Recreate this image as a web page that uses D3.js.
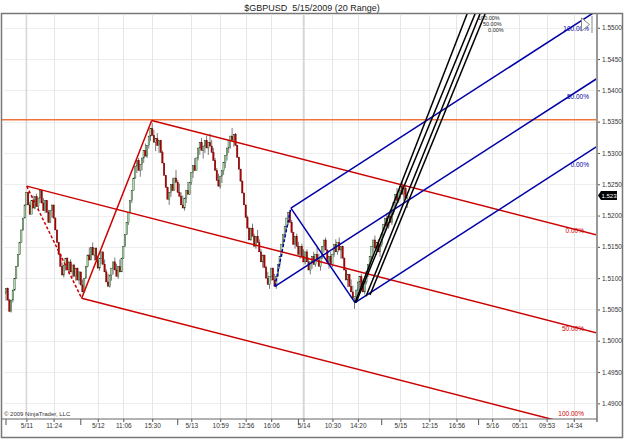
<!DOCTYPE html>
<html>
<head>
<meta charset="utf-8">
<script src="https://cdn.jsdelivr.net/npm/d3@7"></script>
<style>
  body { margin: 0; background: #fff; }
  svg { display: block; font-family: "Liberation Sans", Arial, sans-serif; }
</style>
</head>
<body>
<div id="chart"></div>
<script>
// closes of each 20-tick range bar
const closes = [
  1.5084, 1.5065, 1.5047, 1.5065, 1.5081, 1.5100, 1.5119, 1.5138, 1.5157, 1.5177,
  1.5196, 1.5217, 1.5237, 1.5217, 1.5202, 1.5224, 1.5212, 1.5230, 1.5215, 1.5228,
  1.5240, 1.5220, 1.5208, 1.5224, 1.5205, 1.5189, 1.5208, 1.5217, 1.5196, 1.5177,
  1.5157, 1.5138, 1.5119, 1.5105, 1.5121, 1.5132, 1.5113, 1.5126, 1.5110, 1.5121,
  1.5103, 1.5116, 1.5097, 1.5110, 1.5089, 1.5078, 1.5100, 1.5119, 1.5137, 1.5129,
  1.5149, 1.5137, 1.5148, 1.5129, 1.5116, 1.5132, 1.5142, 1.5122, 1.5110, 1.5094,
  1.5087, 1.5105, 1.5116, 1.5126, 1.5113, 1.5103, 1.5119, 1.5110, 1.5132, 1.5151,
  1.5170, 1.5189, 1.5205, 1.5224, 1.5240, 1.5260, 1.5279, 1.5288, 1.5272, 1.5282,
  1.5292, 1.5304, 1.5295, 1.5312, 1.5327, 1.5339, 1.5328, 1.5317, 1.5323, 1.5312,
  1.5320, 1.5301, 1.5284, 1.5264, 1.5245, 1.5226, 1.5237, 1.5250, 1.5240, 1.5260,
  1.5253, 1.5237, 1.5231, 1.5217, 1.5212, 1.5228, 1.5240, 1.5234, 1.5253, 1.5269,
  1.5280, 1.5272, 1.5292, 1.5308, 1.5317, 1.5304, 1.5311, 1.5320, 1.5308, 1.5317,
  1.5311, 1.5301, 1.5288, 1.5272, 1.5256, 1.5247, 1.5263, 1.5272, 1.5285, 1.5296,
  1.5308, 1.5320, 1.5327, 1.5320, 1.5330, 1.5312, 1.5293, 1.5274, 1.5255, 1.5236,
  1.5217, 1.5197, 1.5180, 1.5161, 1.5180, 1.5167, 1.5151, 1.5167, 1.5157, 1.5142,
  1.5126, 1.5137, 1.5117, 1.5100, 1.5090, 1.5103, 1.5116, 1.5097, 1.5087, 1.5103,
  1.5122, 1.5135, 1.5154, 1.5170, 1.5183, 1.5196, 1.5205, 1.5189, 1.5173, 1.5154,
  1.5167, 1.5151, 1.5138, 1.5151, 1.5135, 1.5126, 1.5142, 1.5126, 1.5113, 1.5126,
  1.5135, 1.5122, 1.5138, 1.5129, 1.5119, 1.5132, 1.5151, 1.5161, 1.5145, 1.5126,
  1.5135, 1.5122, 1.5138, 1.5154, 1.5142, 1.5157, 1.5145, 1.5151, 1.5132, 1.5113,
  1.5097, 1.5106, 1.5087, 1.5078, 1.5068, 1.5071, 1.5081, 1.5094, 1.5103, 1.5087,
  1.5078, 1.5094, 1.5110, 1.5122, 1.5135, 1.5151, 1.5161, 1.5148, 1.5157, 1.5142,
  1.5154, 1.5170, 1.5186, 1.5196, 1.5183, 1.5199, 1.5189, 1.5205, 1.5221, 1.5234,
  1.5224, 1.5240, 1.5247, 1.5234, 1.5244, 1.5228, 1.5232
];
const firstOpen = 1.5076;
const barRange = 0.0020;

const priceTicks = [1.4900, 1.4950, 1.5000, 1.5050, 1.5100, 1.5150, 1.5200,
                    1.5250, 1.5300, 1.5350, 1.5400, 1.5450, 1.5500];
const timeLabels = ['5/11', '11:24', '5/12', '11:06', '15:30', '5/13', '10:59', '12:56', '16:06',
                    '5/14', '10:30', '14:20', '5/15', '12:15', '16:56', '5/16', '05:11', '09:53', '14:34'];
const timeLabelBars = [12, 28, 54, 69, 86, 109, 126, 141, 156, 175, 192, 207, 232, 249, 265, 286, 302, 318, 334];
const dayBars = [12, 175];
const sessionBars = [0, 44, 101, 172, 221, 278];

const orangeLevel = 1.5353;
const lastPrice = 1.5232;

// pitchfork pivots [bar, price]: A (handle), B, C
const redFork = [[12.2, 1.5247], [44.5, 1.5068], [85.7, 1.5352]];
const blueFork = [[158.2, 1.5087], [167.6, 1.5212], [205.3, 1.5061]];
const blackLines = [
  [[205.3, 1.5061], [271.2, 1.5522]],
  [[205.9, 1.5061], [275.9, 1.5522]],
  [[211.8, 1.5071], [278.8, 1.5522]],
  [[214.1, 1.5073], [281.8, 1.5522]]
];
const forkLabels = ['100.00%', '50.00%', '0.00%'];

const width = 625, height = 440;
const plot = { left: 2, right: 597, top: 14, bottom: 419 };

const svg = d3.select('#chart').append('svg')
  .attr('width', width).attr('height', height);

const x = d3.scaleLinear().domain([0, closes.length - 1]).range([6, 6 + 1.7 * (closes.length - 1)]);
const y = d3.scaleLinear().domain([1.4875, 1.5522]).range([plot.bottom, plot.top]);

svg.append('defs').append('clipPath').attr('id', 'plotClip')
  .append('rect').attr('x', plot.left).attr('y', plot.top)
  .attr('width', plot.right - plot.left).attr('height', plot.bottom - plot.top);

// title
svg.append('text').attr('x', 312).attr('y', 11).attr('text-anchor', 'middle')
  .attr('font-size', 9).attr('fill', '#222').text('$GBPUSD\u00a0 5/15/2009 (20 Range)');

// outer frame
svg.append('rect').attr('x', 1.5).attr('y', 13.5).attr('width', 621).attr('height', 424)
  .attr('fill', 'none').attr('stroke', '#777').attr('stroke-width', 1.5);

const grid = svg.append('g');
grid.selectAll('.hgrid').data(priceTicks).join('line')
  .attr('x1', plot.left).attr('x2', plot.right)
  .attr('y1', d => Math.round(y(d)) + 0.5).attr('y2', d => Math.round(y(d)) + 0.5)
  .attr('stroke', '#eeeeee');
grid.selectAll('.vgrid').data(timeLabelBars).join('line')
  .attr('x1', d => Math.round(x(d)) + 0.5).attr('x2', d => Math.round(x(d)) + 0.5)
  .attr('y1', plot.top).attr('y2', plot.bottom)
  .attr('stroke', '#e6e6e6');
grid.selectAll('.dgrid').data(dayBars).join('line')
  .attr('x1', d => x(d)).attr('x2', d => x(d))
  .attr('y1', plot.top).attr('y2', plot.bottom)
  .attr('stroke', '#d6d6d6').attr('stroke-width', 1.5);

const body = svg.append('g').attr('clip-path', 'url(#plotClip)');

// horizontal line
body.append('line').attr('x1', plot.left).attr('x2', plot.right)
  .attr('y1', y(orangeLevel)).attr('y2', y(orangeLevel))
  .attr('stroke', '#f0743c').attr('stroke-width', 1.5);

// range bars
const bars = closes.map((c, i) => {
  const o = i ? closes[i - 1] : firstOpen;
  const up = c >= o;
  return { i, o, c, up, hi: up ? c : c + barRange, lo: up ? c - barRange : c };
});
const cg = body.append('g');
cg.selectAll('.wick').data(bars).join('line')
  .attr('x1', d => x(d.i)).attr('x2', d => x(d.i))
  .attr('y1', d => y(d.hi)).attr('y2', d => y(d.lo))
  .attr('stroke', '#222').attr('stroke-width', 0.6);
cg.selectAll('.candle').data(bars).join('rect')
  .attr('x', d => x(d.i) - 0.7).attr('width', 1.4)
  .attr('y', d => y(Math.max(d.o, d.c)))
  .attr('height', d => Math.max(0.8, Math.abs(y(d.o) - y(d.c))))
  .attr('fill', d => d.up ? '#abdfab' : '#b80000')
  .attr('stroke', d => d.up ? '#1e3a1e' : '#6a0000').attr('stroke-width', 0.4);

// pitchforks
function drawFork(pivots, color, labelFn) {
  const [A, B, C] = pivots.map(p => [x(p[0]), y(p[1])]);
  const M = [(B[0] + C[0]) / 2, (B[1] + C[1]) / 2];
  const dx = M[0] - A[0], dy = M[1] - A[1];
  const far = p => [p[0] + dx * 40, p[1] + dy * 40];
  const g = body.append('g').attr('stroke', color).attr('stroke-width', 1.5).attr('fill', 'none');
  g.append('line').attr('x1', A[0]).attr('y1', A[1]).attr('x2', B[0]).attr('y2', B[1])
    .attr('stroke-dasharray', '3,2');
  g.append('line').attr('x1', B[0]).attr('y1', B[1]).attr('x2', C[0]).attr('y2', C[1]);
  const starts = [B, A, C];
  starts.forEach((s, k) => {
    const e = far(s);
    g.append('line').attr('x1', s[0]).attr('y1', s[1]).attr('x2', e[0]).attr('y2', e[1]);
    labelFn(s, dy / dx, forkLabels[k]);
  });
}

drawFork(redFork, '#cc0000', (s, slope, txt) => {
  const ly = Math.min(s[1] + (576 - s[0]) * slope + 3, 416);
  body.append('text').attr('x', 584).attr('y', ly).attr('text-anchor', 'end')
    .attr('font-size', 6.5).attr('fill', '#cc0000').text(txt);
});
drawFork(blueFork, '#0000a8', (s, slope, txt) => {
  const ly = s[1] + (588 - s[0]) * slope + 15;
  body.append('text').attr('x', 589).attr('y', ly).attr('text-anchor', 'end')
    .attr('font-size', 6.5).attr('fill', '#0000a8').text(txt);
});

// black lines
const bg = body.append('g');
bg.selectAll('line').data(blackLines).join('line')
  .attr('x1', d => x(d[0][0])).attr('y1', d => y(d[0][1]))
  .attr('x2', d => x(d[1][0])).attr('y2', d => y(d[1][1]))
  .attr('stroke', '#000').attr('stroke-width', 1.5);
bg.selectAll('text').data(blackLines.slice(1, 4)).join('text')
  .attr('x', d => x(d[1][0]) + 3).attr('y', (d, k) => 20 + k * 6)
  .attr('font-size', 5.5).attr('fill', '#222')
  .text((d, k) => forkLabels[k]);

// axes
const yAxis = svg.append('g').attr('transform', `translate(${plot.right},0)`)
  .call(d3.axisRight(y).tickValues(priceTicks).tickFormat(d3.format('.4f')).tickSize(3).tickPadding(2));
yAxis.select('.domain').remove();
yAxis.selectAll('.tick line').attr('stroke', '#555');
yAxis.selectAll('.tick text').attr('font-size', 6.5).attr('fill', '#333')
  .attr('font-family', '"Liberation Sans", Arial, sans-serif');
svg.append('line').attr('x1', plot.right).attr('x2', plot.right)
  .attr('y1', plot.top).attr('y2', plot.bottom + 3)
  .attr('stroke', '#999').attr('stroke-width', 2);

const xAxis = svg.append('g').attr('transform', `translate(0,${plot.bottom})`)
  .call(d3.axisBottom(x).tickValues(timeLabelBars).tickFormat((d, k) => timeLabels[k]).tickSize(3).tickPadding(1));
xAxis.select('.domain').remove();
xAxis.selectAll('.tick line').attr('stroke', '#555');
xAxis.selectAll('.tick text').attr('font-size', 6.5).attr('fill', '#333')
  .attr('font-family', '"Liberation Sans", Arial, sans-serif');
svg.selectAll('.sess').data(sessionBars).join('line')
  .attr('x1', d => x(d)).attr('x2', d => x(d))
  .attr('y1', plot.bottom).attr('y2', plot.bottom + 6)
  .attr('stroke', '#555');
svg.append('line').attr('x1', plot.left).attr('x2', plot.right)
  .attr('y1', plot.bottom).attr('y2', plot.bottom)
  .attr('stroke', '#666').attr('stroke-width', 1);

// last price marker
const ly = y(lastPrice);
svg.append('path')
  .attr('d', `M${plot.right + 1},${ly} L${plot.right + 4},${ly - 4.5} L${plot.right + 20},${ly - 4.5} L${plot.right + 20},${ly + 4.5} L${plot.right + 4},${ly + 4.5} Z`)
  .attr('fill', '#000');
svg.append('text').attr('x', plot.right + 4.5).attr('y', ly + 2.3)
  .attr('font-size', 6).attr('fill', '#fff').text(d3.format('.4f')(lastPrice));

// scroll button
svg.append('path').attr('d', 'M581.5,18 L581.5,31 L589.5,24.5 Z')
  .attr('fill', '#fff').attr('stroke', '#888');
svg.append('line').attr('x1', 592).attr('x2', 592).attr('y1', 16).attr('y2', 33)
  .attr('stroke', '#888');

// copyright
svg.append('text').attr('x', 4).attr('y', 416).attr('font-size', 6).attr('fill', '#333')
  .text('© 2009 NinjaTrader, LLC');
</script>
</body>
</html>
